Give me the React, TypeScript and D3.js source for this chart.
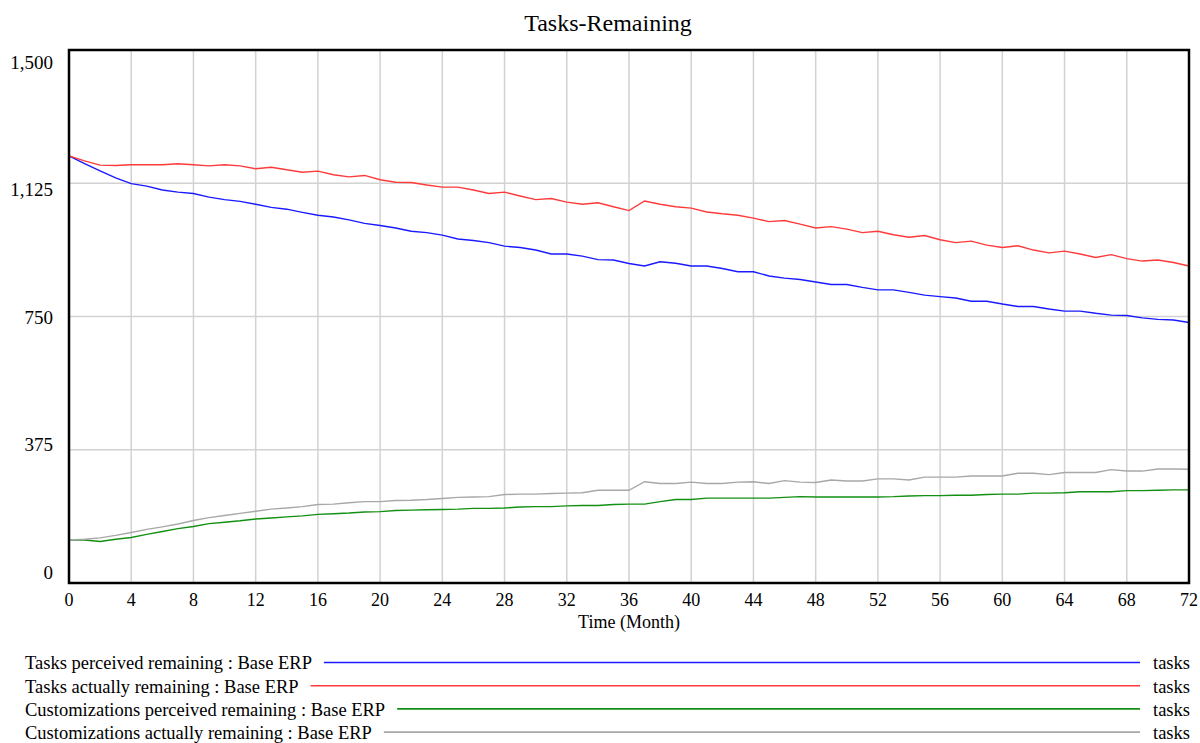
import * as d3 from "d3";
import { useEffect, useRef } from "react";

// time axis (months)
const months = [
  0, 1, 2, 3, 4, 5, 6, 7, 8, 9, 10, 11, 12, 13, 14, 15, 16, 17, 18, 19, 20, 21, 22, 23, 24,
  25, 26, 27, 28, 29, 30, 31, 32, 33, 34, 35, 36, 37, 38, 39, 40, 41, 42, 43, 44, 45, 46, 47,
  48, 49, 50, 51, 52, 53, 54, 55, 56, 57, 58, 59, 60, 61, 62, 63, 64, 65, 66, 67, 68, 69, 70,
  71, 72,
];

const tasksPerceived = [
  1202, 1180, 1160, 1140, 1124, 1117, 1106, 1100, 1096, 1086, 1079, 1074, 1066, 1057, 1052,
  1043, 1035, 1030, 1022, 1012, 1006, 999, 990, 986, 979, 968, 964, 958, 948, 944, 937, 926,
  926, 920, 910, 909, 899, 892, 904, 900, 892, 892, 885, 876, 876, 864, 858, 854, 847, 840,
  840, 832, 825, 825, 818, 810, 806, 802, 793, 793, 785, 778, 778, 771, 765, 765, 759, 754,
  753, 746, 742, 740, 733,
];

const tasksActual = [
  1202, 1188, 1176, 1175, 1177, 1177, 1177, 1180, 1177, 1174, 1177, 1174, 1166, 1170, 1163,
  1156, 1159, 1149, 1143, 1147, 1135, 1128, 1127, 1120, 1114, 1114, 1106, 1096, 1100, 1089,
  1079, 1082, 1072, 1066, 1070, 1059, 1048, 1075, 1066, 1059, 1055, 1044, 1039, 1035, 1027,
  1017, 1020, 1010, 999, 1003, 996, 986, 990, 980, 973, 978, 966, 958, 962, 951, 944, 949,
  937, 929, 934, 926, 916, 924, 913, 906, 909, 902, 892,
];

const customPerceived = [
  121, 121, 117, 123, 128, 137, 145, 153, 159, 167, 171, 175, 180, 183, 186, 189, 193, 195,
  197, 200, 201, 204, 205, 206, 207, 208, 210, 210, 211, 214, 215, 215, 217, 218, 218, 221,
  222, 222, 229, 235, 235, 239, 239, 239, 239, 239, 241, 243, 242, 242, 242, 242, 242, 243,
  245, 246, 246, 247, 247, 249, 250, 250, 253, 253, 254, 257, 257, 257, 260, 260, 261, 262,
  262,
];

const customActual = [
  121, 123, 127, 134, 142, 151, 158, 166, 176, 184, 190, 196, 202, 208, 211, 215, 221, 222,
  226, 229, 229, 232, 233, 235, 238, 241, 242, 243, 249, 250, 250, 252, 253, 254, 261, 261,
  261, 285, 280, 280, 284, 280, 280, 284, 285, 280, 288, 284, 283, 290, 287, 287, 293, 293,
  290, 298, 298, 298, 301, 301, 301, 309, 309, 305, 311, 311, 311, 319, 315, 315, 321, 321,
  320,
];

const seriesNames = [
  "Tasks perceived remaining : Base ERP",
  "Tasks actually remaining : Base ERP",
  "Customizations perceived remaining : Base ERP",
  "Customizations actually remaining : Base ERP",
];
const seriesColors = ["#1a1aff", "#ff3a3a", "#139013", "#a8a8a8"];
const seriesUnits = ["tasks", "tasks", "tasks", "tasks"];

const xTicks = [0, 4, 8, 12, 16, 20, 24, 28, 32, 36, 40, 44, 48, 52, 56, 60, 64, 68, 72];
const yTicks = [0, 375, 750, 1125, 1500];
const yTickLabels = ["0", "375", "750", "1,125", "1,500"];

const FONT = "'Liberation Serif', 'Times New Roman', serif";

const App = () => {
  const ref = useRef<SVGSVGElement>(null);
  const outputWidth = 1200;
  const outputHeight = 743;

  useEffect(() => {
    const margin = { top: 50, right: 11, bottom: 160, left: 69 };
    const width = outputWidth - margin.left - margin.right;
    const height = outputHeight - margin.top - margin.bottom;

    const root = d3.select(ref.current);
    root.selectAll("*").remove();

    const svg = root
      .append("g")
      .attr("transform", `translate(${margin.left},${margin.top})`);

    // scales
    var x = d3.scaleLinear().domain([0, 72]).range([0, width]);
    var y = d3.scaleLinear().domain([0, 1500]).range([height, 0]);
    // vensim squeezes the value labels inside the frame
    var yLab = d3.scaleLinear().domain([0, 1500]).range([height - 11, 12]);

    // title
    root
      .append("text")
      .attr("x", 608)
      .attr("y", 31)
      .attr("text-anchor", "middle")
      .style("font-family", FONT)
      .style("font-size", "24px")
      .text("Tasks-Remaining");

    // grid
    svg
      .append("g")
      .selectAll("line")
      .data(xTicks.slice(1, -1))
      .enter()
      .append("line")
      .attr("x1", (d) => x(d))
      .attr("x2", (d) => x(d))
      .attr("y1", 0)
      .attr("y2", height)
      .attr("stroke", "#d2d2d2")
      .attr("stroke-width", 1.5);

    svg
      .append("g")
      .selectAll("line")
      .data(yTicks.slice(1, -1))
      .enter()
      .append("line")
      .attr("x1", 0)
      .attr("x2", width)
      .attr("y1", (d) => y(d))
      .attr("y2", (d) => y(d))
      .attr("stroke", "#d2d2d2")
      .attr("stroke-width", 1.5);

    // lines
    const allSeries = [tasksPerceived, tasksActual, customPerceived, customActual];
    const line = d3
      .line<number>()
      .x((d, i) => x(months[i]))
      .y((d) => y(d));

    allSeries.forEach((s, k) => {
      svg
        .append("path")
        .datum(s)
        .attr("fill", "none")
        .attr("stroke", seriesColors[k])
        .attr("stroke-width", 1.4)
        .attr("d", line);
    });

    // frame
    svg
      .append("rect")
      .attr("x", 0)
      .attr("y", 0)
      .attr("width", width)
      .attr("height", height)
      .attr("fill", "none")
      .attr("stroke", "#000")
      .attr("stroke-width", 2.5);

    // y labels
    svg
      .append("g")
      .selectAll("text")
      .data(yTicks)
      .enter()
      .append("text")
      .attr("x", -16)
      .attr("y", (d) => yLab(d))
      .attr("dy", "0.35em")
      .attr("text-anchor", "end")
      .style("font-family", FONT)
      .style("font-size", "19px")
      .text((d, i) => yTickLabels[i]);

    // x labels
    svg
      .append("g")
      .selectAll("text")
      .data(xTicks)
      .enter()
      .append("text")
      .attr("x", (d) => x(d))
      .attr("y", height + 17)
      .attr("dy", "0.35em")
      .attr("text-anchor", "middle")
      .style("font-family", FONT)
      .style("font-size", "18px")
      .text((d) => String(d));

    svg
      .append("text")
      .attr("x", width / 2)
      .attr("y", height + 39)
      .attr("dy", "0.35em")
      .attr("text-anchor", "middle")
      .style("font-family", FONT)
      .style("font-size", "18px")
      .text("Time (Month)");

    // legend
    const legend = root.append("g");
    seriesNames.forEach((name, k) => {
      const ly = 663 + k * 23.2;
      const t = legend
        .append("text")
        .attr("x", 25)
        .attr("y", ly)
        .attr("dy", "0.35em")
        .style("font-family", FONT)
        .style("font-size", "18.5px")
        .text(name);
      const tw = (t.node() as SVGTextElement).getComputedTextLength();
      legend
        .append("line")
        .attr("x1", 25 + tw + 12)
        .attr("x2", 1140)
        .attr("y1", ly - 0.5)
        .attr("y2", ly - 0.5)
        .attr("stroke", seriesColors[k])
        .attr("stroke-width", 1.6);
      legend
        .append("text")
        .attr("x", 1153)
        .attr("y", ly)
        .attr("dy", "0.35em")
        .style("font-family", FONT)
        .style("font-size", "18.5px")
        .text(seriesUnits[k]);
    });
  }, []);

  return (
    <svg
      ref={ref}
      width={outputWidth}
      height={outputHeight}
      style={{ position: "absolute", left: 0, top: 0, background: "#fff" }}
    />
  );
};

export default App;
